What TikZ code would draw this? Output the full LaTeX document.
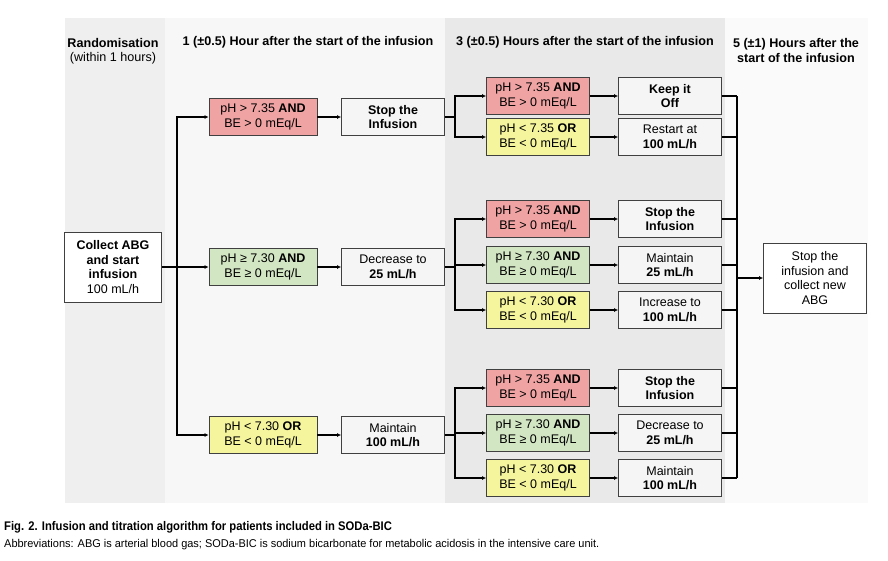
\documentclass[tikz,border=0pt]{standalone}
\usepackage{fontspec}
\setmainfont{Liberation Sans}
\usetikzlibrary{arrows.meta}
\definecolor{cred}{HTML}{EFA3A3}
\definecolor{cgreen}{HTML}{D3E6C3}
\definecolor{cyel}{HTML}{F5F59E}
\definecolor{bgA}{HTML}{EFEFEF}
\definecolor{bgB}{HTML}{F7F7F7}
\definecolor{bgC}{HTML}{E9E9E9}
\definecolor{bgD}{HTML}{FAFAFA}
\tikzset{
 bx/.style={draw=black!75,line width=0.8pt,minimum width=103pt,minimum height=37pt,align=center,font=\fontsize{12.5}{14.5}\selectfont,inner sep=1pt},
 red/.style={bx,fill=cred},
 grn/.style={bx,fill=cgreen},
 yel/.style={bx,fill=cyel},
 act/.style={bx,fill=white!96!black},
 hd/.style={align=center,font=\bfseries\fontsize{12.6}{15}\selectfont},
 ln/.style={line width=1.3pt,black},
 ar/.style={ln,-{Latex[length=4pt,width=4pt]}}
}
\begin{document}
\begin{tikzpicture}[x=1pt,y=-1pt]
\useasboundingbox (0,0) rectangle (888,560);
\fill[white] (0,0) rectangle (888,560);
\fill[bgA] (65,18) rectangle (165,503);
\fill[bgB] (165,18) rectangle (445,503);
\fill[bgC] (445,18) rectangle (725,503);
\fill[bgD] (725,18) rectangle (868,503);
\node[hd] at (113,43) {Randomisation};
\node[font=\fontsize{12.6}{15}\selectfont] at (113,58) {(within 1 hours)};
\node[hd] at (308,42) {1 (±0.5) Hour after the start of the infusion};
\node[hd] at (585,42) {3 (±0.5) Hours after the start of the infusion};
\node[hd] at (796,50) {5 (±1) Hours after the\\start of the infusion};
% col1
\node[bx,fill=white,minimum width=97pt,minimum height=70pt] (c) at (113,267) {\textbf{Collect ABG}\\\textbf{and start}\\\textbf{infusion}\\100 mL/h};
% col2
\node[red,minimum width=108pt] (r1) at (263,117) {pH > 7.35 \textbf{AND}\\BE > 0 mEq/L};
\node[grn,minimum width=108pt] (g1) at (263,267) {pH ≥ 7.30 \textbf{AND}\\BE ≥ 0 mEq/L};
\node[yel,minimum width=108pt] (y1) at (263,435) {pH < 7.30 \textbf{OR}\\BE < 0 mEq/L};
\node[act] (a1) at (393,117) {\textbf{Stop the}\\\textbf{Infusion}};
\node[act] (a2) at (393,267) {Decrease to\\\textbf{25 mL/h}};
\node[act] (a3) at (393,435) {Maintain\\\textbf{100 mL/h}};
\coordinate (v) at (177,267);
\draw[ln] (c.east) -- (v);
\draw[ar] (v) |- (r1.west);
\draw[ar] (v) -- (g1.west);
\draw[ar] (v) |- (y1.west);
\draw[ar] (r1) -- (a1);
\draw[ar] (g1) -- (a2);
\draw[ar] (y1) -- (a3);
% col3
\node[red] (p1) at (538,96) {pH > 7.35 \textbf{AND}\\BE > 0 mEq/L};
\node[yel] (p2) at (538,137) {pH < 7.35 \textbf{OR}\\BE < 0 mEq/L};
\node[act] (q1) at (670,96) {\textbf{Keep it}\\\textbf{Off}};
\node[act] (q2) at (670,137) {Restart at\\\textbf{100 mL/h}};
\node[red] (p3) at (538,219) {pH > 7.35 \textbf{AND}\\BE > 0 mEq/L};
\node[grn] (p4) at (538,265) {pH ≥ 7.30 \textbf{AND}\\BE ≥ 0 mEq/L};
\node[yel] (p5) at (538,310) {pH < 7.30 \textbf{OR}\\BE < 0 mEq/L};
\node[act] (q3) at (670,219) {\textbf{Stop the}\\\textbf{Infusion}};
\node[act] (q4) at (670,265) {Maintain\\\textbf{25 mL/h}};
\node[act] (q5) at (670,310) {Increase to\\\textbf{100 mL/h}};
\node[red] (p6) at (538,388) {pH > 7.35 \textbf{AND}\\BE > 0 mEq/L};
\node[grn] (p7) at (538,433) {pH ≥ 7.30 \textbf{AND}\\BE ≥ 0 mEq/L};
\node[yel] (p8) at (538,478) {pH < 7.30 \textbf{OR}\\BE < 0 mEq/L};
\node[act] (q6) at (670,388) {\textbf{Stop the}\\\textbf{Infusion}};
\node[act] (q7) at (670,433) {Decrease to\\\textbf{25 mL/h}};
\node[act] (q8) at (670,478) {Maintain\\\textbf{100 mL/h}};
\foreach \k in {1,...,8} {\draw[ar] (p\k) -- (q\k);}
% branches
\coordinate (b1) at (455,117);
\draw[ln] (a1.east) -- (b1);
\draw[ar] (b1) |- (p1.west);
\draw[ar] (b1) |- (p2.west);
\coordinate (b2) at (455,267);
\draw[ln] (a2.east) -- (b2);
\draw[ar] (b2) |- (p3.west);
\draw[ar] (b2) |- (p4.west);
\draw[ar] (b2) |- (p5.west);
\coordinate (b3) at (455,435);
\draw[ln] (a3.east) -- (b3);
\draw[ar] (b3) |- (p6.west);
\draw[ar] (b3) |- (p7.west);
\draw[ar] (b3) |- (p8.west);
% collector
\coordinate (t) at (737,96);
\coordinate (bt) at (737,478);
\coordinate (m) at (737,278);
\draw[ln] (t) -- (bt);
\foreach \k in {1,...,8} {\draw[ln] (q\k.east) -- (737,0 |- q\k.east);}
\node[bx,fill=white,minimum width=103pt,minimum height=70pt] (f) at (815,278) {Stop the\\infusion and\\collect new\\ABG};
\draw[ar] (m) -- (f.west);
% caption
\node[anchor=west,inner sep=0pt] at (4,527) {\scalebox{0.9}[1]{\bfseries\fontsize{12.5}{14}\selectfont Fig. 2. Infusion and titration algorithm for patients included in SODa-BIC}};
\node[anchor=west,inner sep=0pt] at (4,545) {\scalebox{0.97}[1]{\fontsize{11.3}{13}\selectfont Abbreviations: ABG is arterial blood gas; SODa-BIC is sodium bicarbonate for metabolic acidosis in the intensive care unit.}};
\end{tikzpicture}
\end{document}
